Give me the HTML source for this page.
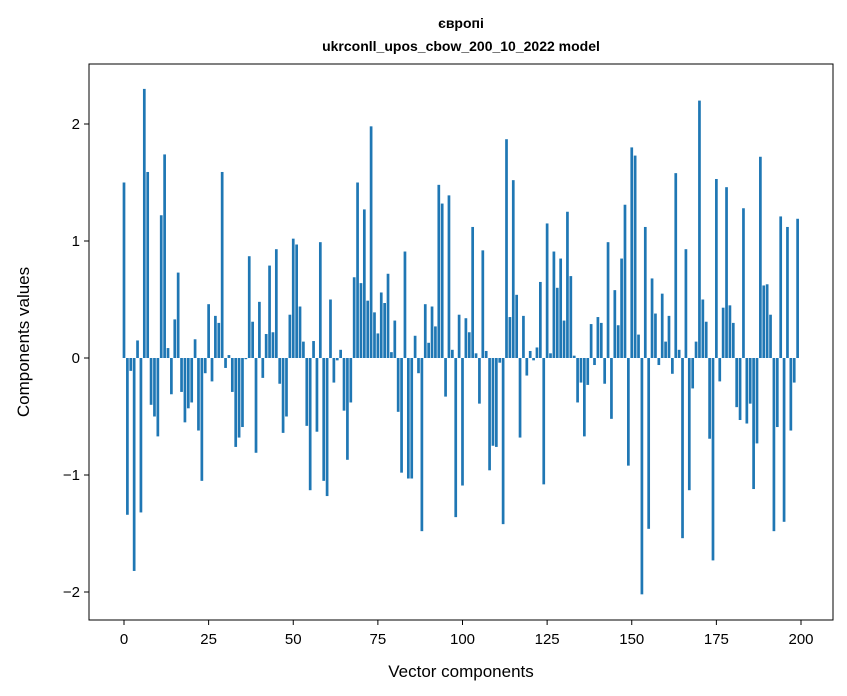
<!DOCTYPE html>
<html><head><meta charset="utf-8"><style>
body{margin:0;background:#fff;}
svg{display:block;font-family:"Liberation Sans","DejaVu Sans",sans-serif;}
</style></head><body>
<svg id="chart" width="847" height="696" viewBox="0 0 847 696" xmlns="http://www.w3.org/2000/svg">
<rect x="0" y="0" width="847" height="696" fill="#fff"/>
<text x="461" y="28" text-anchor="middle" font-size="14" font-weight="bold">європі</text>
<text x="461" y="51" text-anchor="middle" font-size="14" font-weight="bold">ukrconll_upos_cbow_200_10_2022 model</text>
<g id="bars"></g>
<g id="axes"></g>
<rect x="89" y="64" width="744" height="556" fill="none" stroke="#000" stroke-width="1"/>
<text x="461" y="677" text-anchor="middle" font-size="17">Vector components</text>
<text transform="translate(29,342) rotate(-90)" text-anchor="middle" font-size="17">Components values</text>
</svg>
<script>
const values = [1.50,-1.34,-0.11,-1.82,0.15,-1.32,2.30,1.59,-0.40,-0.50,
-0.67,1.22,1.74,0.085,-0.31,0.33,0.73,-0.29,-0.55,-0.43,
-0.38,0.16,-0.62,-1.05,-0.13,0.46,-0.20,0.36,0.30,1.59,
-0.085,0.025,-0.29,-0.76,-0.68,-0.59,-0.01,0.87,0.31,-0.81,
0.48,-0.17,0.205,0.79,0.22,0.93,-0.22,-0.64,-0.50,0.37,
1.02,0.97,0.44,0.14,-0.58,-1.13,0.145,-0.63,0.99,-1.05,
-1.18,0.50,-0.21,-0.02,0.07,-0.45,-0.87,-0.38,0.69,1.50,
0.64,1.27,0.49,1.98,0.39,0.21,0.56,0.47,0.72,0.05,
0.32,-0.46,-0.98,0.91,-1.03,-1.03,0.19,-0.13,-1.48,0.46,
0.13,0.44,0.27,1.48,1.32,-0.33,1.39,0.07,-1.36,0.37,
-1.09,0.34,0.22,1.12,0.04,-0.39,0.92,0.06,-0.96,-0.75,
-0.76,-0.04,-1.42,1.87,0.35,1.52,0.54,-0.68,0.36,-0.15,
0.06,-0.02,0.09,0.65,-1.08,1.15,0.04,0.91,0.60,0.85,
0.32,1.25,0.70,0.02,-0.38,-0.21,-0.67,-0.23,0.29,-0.06,
0.35,0.30,-0.22,0.99,-0.52,0.58,0.28,0.85,1.31,-0.92,
1.80,1.73,0.20,-2.02,1.12,-1.46,0.68,0.38,-0.06,0.55,
0.14,0.36,-0.135,1.58,0.07,-1.54,0.93,-1.13,-0.26,0.14,
2.20,0.50,0.31,-0.69,-1.73,1.53,-0.20,0.43,1.46,0.45,
0.30,-0.42,-0.53,1.28,-0.56,-0.39,-1.12,-0.73,1.72,0.62,
0.63,0.37,-1.48,-0.59,1.21,-1.40,1.12,-0.62,-0.21,1.19];
const xTicks = [0,25,50,75,100,125,150,175,200];
const yTicks = [-2,-1,0,1,2];
const yTickLabels = ["\u22122","\u22121","0","1","2"];

const X0=124, XS=3.385, Y0=358, YS=117;
function xs(v){return X0+v*XS;}
function ys(v){return Y0-v*YS;}
const NS="http://www.w3.org/2000/svg";
const bars=document.getElementById('bars');
values.forEach((v,i)=>{
  const r=document.createElementNS(NS,'rect');
  const w=0.8*XS;
  r.setAttribute('x',xs(i)-w/2);
  r.setAttribute('width',w);
  r.setAttribute('y',Math.min(ys(v),ys(0)));
  r.setAttribute('height',Math.abs(ys(v)-ys(0)));
  r.setAttribute('fill','#1f77b4');
  
  
  bars.appendChild(r);
});
const axes=document.getElementById('axes');
xTicks.forEach(t=>{
  const l=document.createElementNS(NS,'line');
  l.setAttribute('x1',xs(t));l.setAttribute('x2',xs(t));
  l.setAttribute('y1',620);l.setAttribute('y2',625);
  l.setAttribute('stroke','#000');
  
  
  axes.appendChild(l);
  const tx=document.createElementNS(NS,'text');
  tx.setAttribute('x',xs(t));tx.setAttribute('y',644);
  tx.setAttribute('text-anchor','middle');tx.setAttribute('font-size','15');
  tx.textContent=t;
  
  
  axes.appendChild(tx);
});
yTicks.forEach((t,i)=>{
  const l=document.createElementNS(NS,'line');
  l.setAttribute('x1',84);l.setAttribute('x2',89);
  l.setAttribute('y1',ys(t));l.setAttribute('y2',ys(t));
  l.setAttribute('stroke','#000');
  
  
  axes.appendChild(l);
  const tx=document.createElementNS(NS,'text');
  tx.setAttribute('x',80);tx.setAttribute('y',ys(t)+5);
  tx.setAttribute('text-anchor','end');tx.setAttribute('font-size','15');
  tx.textContent=yTickLabels[i];
  
  
  axes.appendChild(tx);
});
</script>
</body></html>
